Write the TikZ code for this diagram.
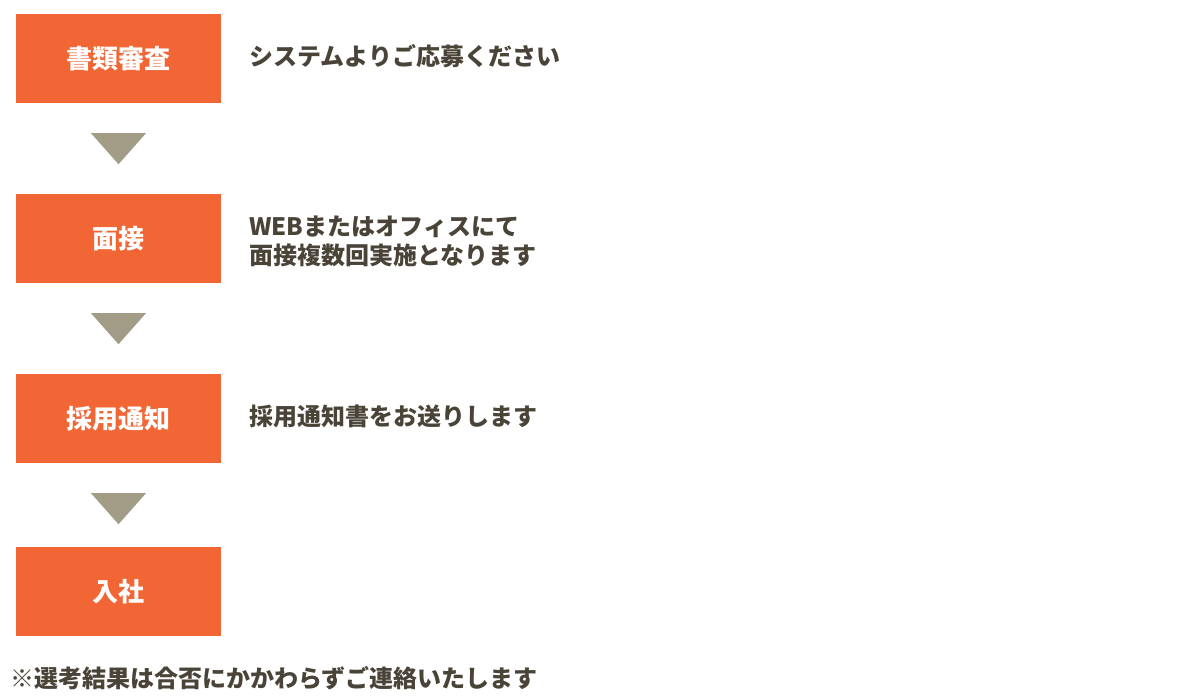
\documentclass[tikz,border=0pt]{standalone}
\usepackage{fontspec}
\setmainfont{Noto Sans CJK JP}
\usepackage{xcolor}
\usepackage{tikz}
\usetikzlibrary{positioning, calc}

\definecolor{flowOrange}{HTML}{F26635}
\definecolor{flowGray}{HTML}{A29C86}
\definecolor{flowText}{HTML}{4A4438}

\begin{document}
\begin{tikzpicture}[
    x=1pt, y=1pt,
    node distance=90.6pt,
    % Define the style for the step boxes
    stepbox/.style={
        rectangle,
        fill=flowOrange,
        text=white,
        align=center,
        minimum width=205pt,
        minimum height=89pt,
        inner sep=0pt,
        font=\fontsize{26}{30}\selectfont\bfseries
    },
    % Define style for the notes beside the boxes
    note/.style={
        align=left,
        inner sep=0pt,
        text=flowText,
        font=\fontsize{24}{29.5}\selectfont\bfseries
    },
    % Define style for the down markers
    marker/.style={
        fill=flowGray
    }
]
\useasboundingbox (0,0) rectangle (1200,-697);

% 1. Document screening
\node (screen) [stepbox] at (118.5,-58.5) {書類審査};

% 2. Interview
\node (interview) [stepbox, below=of screen] {面接};

% 3. Offer
\node (offer) [stepbox, below=of interview] {採用通知};

% 4. Joining
\node (join) [stepbox, below=83.6pt of offer] {入社};

% Notes beside the boxes
\node (screennote) [note, right=28pt of screen, yshift=2pt] {システムよりご応募ください};
\node (interviewnote) [note, right=28pt of interview, yshift=-3pt] {WEBまたはオフィスにて\\面接複数回実施となります};
\node (offernote) [note, right=28pt of offer, yshift=2pt] {採用通知書をお送りします};

% Footer
\node (footer) [note, anchor=west] at (10,-678) {※選考結果は合否にかかわらずご連絡いたします};

% Draw markers to show the flow
\foreach \a in {screen, interview, offer}
    \fill [marker] ($(\a.south)+(-27.5,-30)$) -- ++(55,0) -- ($(\a.south)+(0,-61)$) -- cycle;

\end{tikzpicture}
\end{document}
